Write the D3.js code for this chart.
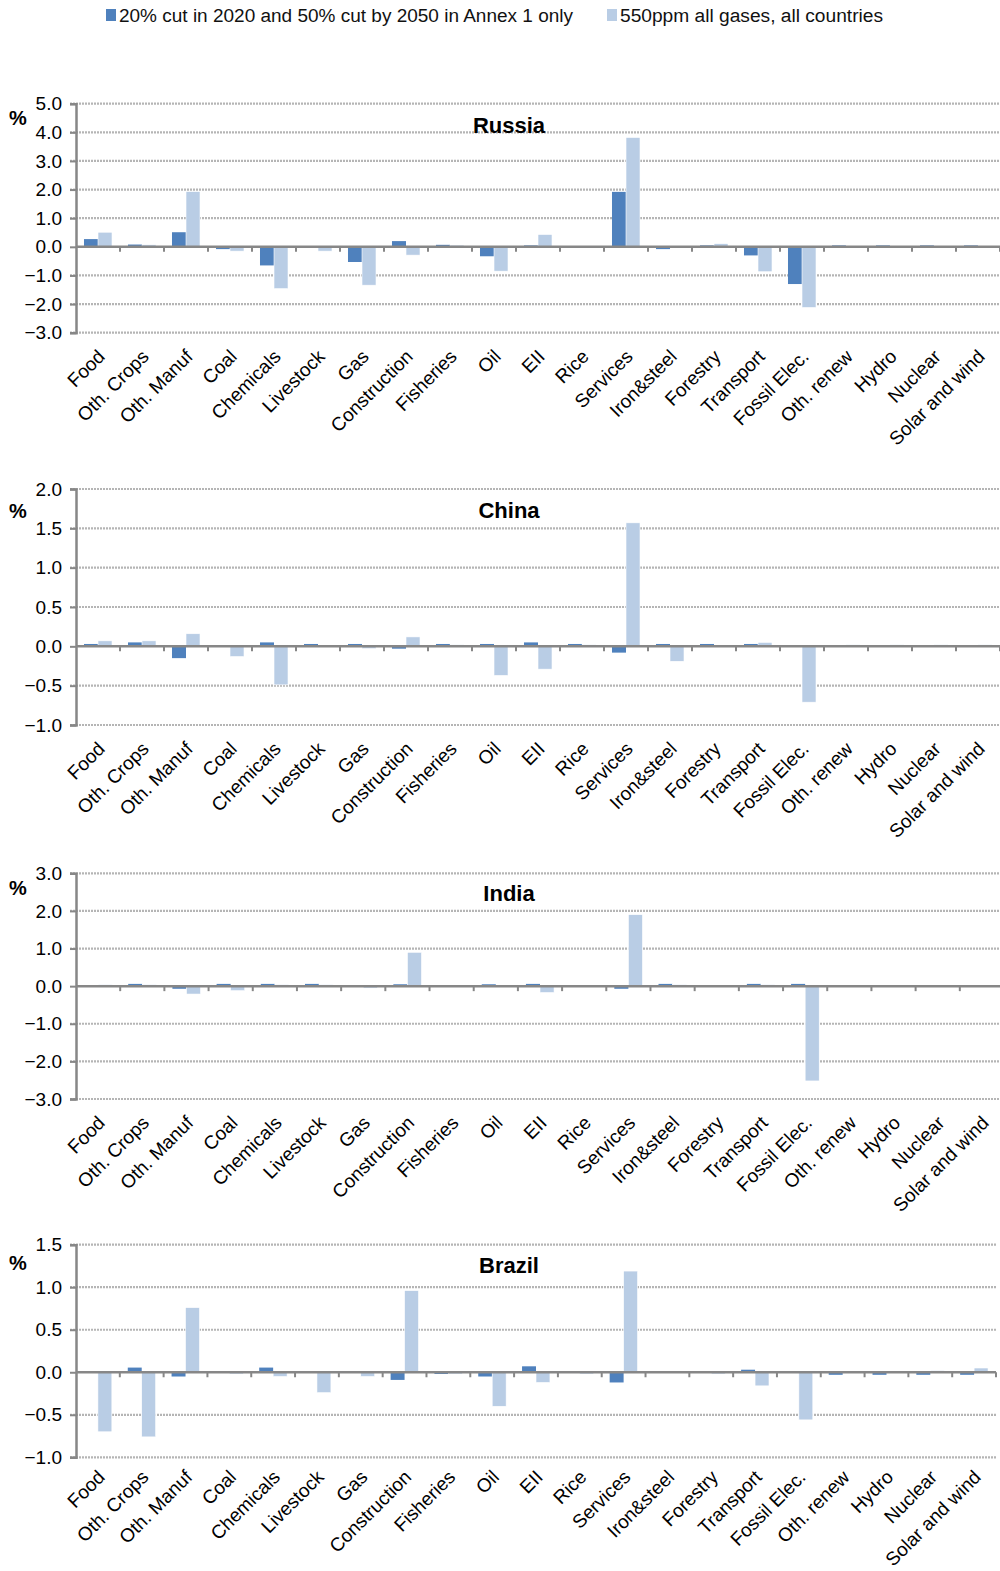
<!DOCTYPE html>
<html>
<head>
<meta charset="utf-8">
<script src="https://cdn.jsdelivr.net/npm/d3@7"></script>
<style>
  html, body { margin: 0; padding: 0; background: #fff; }
  svg { display: block; font-family: "Liberation Sans", Arial, sans-serif; }
</style>
</head>
<body>
<svg id="chart" width="1000" height="1571"></svg>
<script>
// Sectors shown on every panel's category axis
const categories = ["Food", "Oth. Crops", "Oth. Manuf", "Coal", "Chemicals", "Livestock", "Gas",
  "Construction", "Fisheries", "Oil", "EII", "Rice", "Services", "Iron&steel", "Forestry",
  "Transport", "Fossil Elec.", "Oth. renew", "Hydro", "Nuclear", "Solar and wind"];

const seriesNames = ["20% cut in 2020 and 50% cut by 2050 in Annex 1 only",
  "550ppm all gases, all countries"];

// Percent change in output by sector, scenario A (Annex 1 only) and scenario B (550ppm)
const russiaA = [0.27, 0.08, 0.51, -0.08, -0.65, -0.02, -0.53, 0.20, 0.07, -0.33, 0.05, 0, 1.92, -0.08, 0.05, -0.30, -1.30, 0.05, 0.05, 0.05, 0.05];
const russiaB = [0.51, 0.07, 1.93, -0.15, -1.46, -0.15, -1.34, -0.29, 0.06, -0.85, 0.43, 0, 3.82, 0, 0.11, -0.87, -2.12, 0.03, 0.03, 0.03, 0.03];

const chinaA = [0.03, 0.05, -0.15, 0, 0.05, 0.03, 0.03, -0.03, 0.03, 0.03, 0.05, 0.03, -0.08, 0.03, 0.03, 0.03, 0, 0, 0, 0, 0];
const chinaB = [0.07, 0.07, 0.16, -0.13, -0.49, 0.01, -0.03, 0.12, 0.02, -0.37, -0.29, 0.02, 1.57, -0.19, 0, 0.05, -0.71, 0.02, 0.02, 0.02, 0.02];

const indiaA = [0.01, 0.06, -0.07, 0.06, 0.06, 0.06, 0, 0.05, 0, 0.05, 0.06, 0, -0.07, 0.06, 0, 0.06, 0.06, 0, 0, 0, 0];
const indiaB = [0.04, 0.04, -0.21, -0.12, 0.04, 0.04, -0.05, 0.90, 0.03, 0, -0.17, 0.03, 1.90, 0.04, 0.03, 0.04, -2.52, 0.03, 0.03, 0.03, 0.03];

const brazilA = [0, 0.055, -0.05, 0, 0.055, 0, 0, -0.09, -0.02, -0.05, 0.07, 0, -0.12, 0, 0, 0.03, 0, -0.03, -0.03, -0.03, -0.03];
const brazilB = [-0.70, -0.76, 0.76, -0.02, -0.05, -0.24, -0.05, 0.96, -0.02, -0.40, -0.12, -0.02, 1.19, 0, -0.02, -0.16, -0.56, 0, 0, 0.02, 0.05];

// Y-axis tick values per panel
const russiaTicks = [-3, -2, -1, 0, 1, 2, 3, 4, 5];
const chinaTicks = [-1, -0.5, 0, 0.5, 1, 1.5, 2];
const indiaTicks = [-3, -2, -1, 0, 1, 2, 3];
const brazilTicks = [-1, -0.5, 0, 0.5, 1, 1.5];

const colors = ["#4F81BD", "#B9CDE5"];

const panels = [
  { name: "Russia", a: russiaA, b: russiaB, ticks: russiaTicks, top: 103.7, bottom: 332.7, right: 1000, titleY: 133, pctY: 125, labelDy: 25 },
  { name: "China",  a: chinaA,  b: chinaB,  ticks: chinaTicks,  top: 489,   bottom: 725,   right: 1000, titleY: 518, pctY: 518, labelDy: 25 },
  { name: "India",  a: indiaA,  b: indiaB,  ticks: indiaTicks,  top: 873.3, bottom: 1099,  right: 1004, titleY: 901, pctY: 895, labelDy: 25 },
  { name: "Brazil", a: brazilA, b: brazilB, ticks: brazilTicks, top: 1244.7, bottom: 1457.3, right: 996, titleY: 1273, pctY: 1270, labelDy: 21 }
];

const svg = d3.select("#chart");
const left = 76;
const axisColor = "#878787";
const gridColor = "#b5b5b5";

// Legend
const legend = svg.append("g").attr("class", "legend");
const legendItems = [
  { x: 106, textX: 119, len: 454 },
  { x: 607, textX: 620, len: 263 }
];
legendItems.forEach((it, i) => {
  legend.append("rect").attr("x", it.x).attr("y", 9).attr("width", 10).attr("height", 12).attr("fill", colors[i]);
  legend.append("text").attr("x", it.textX).attr("y", 22)
    .attr("font-size", 18).attr("fill", "#111")
    .attr("textLength", it.len).attr("lengthAdjust", "spacingAndGlyphs")
    .text(seriesNames[i]);
});

panels.forEach(p => {
  const g = svg.append("g").attr("class", "panel");
  const x = d3.scaleBand().domain(categories).range([left, p.right]).paddingInner(0).paddingOuter(0);
  const sub = d3.scaleBand().domain([0, 1]).range([0, x.bandwidth()]).paddingInner(0).paddingOuter(0.57);
  const yDomain = d3.extent(p.ticks);
  const y = d3.scaleLinear().domain(yDomain).range([p.bottom, p.top]);

  // Dotted horizontal gridlines
  g.append("g").selectAll("line").data(p.ticks.filter(t => t !== 0)).join("line")
    .attr("x1", left - 6).attr("x2", p.right)
    .attr("y1", d => y(d)).attr("y2", d => y(d))
    .attr("stroke", gridColor).attr("stroke-width", 2.2).attr("stroke-dasharray", "2,1");

  // Bars
  const series = [p.a, p.b];
  series.forEach((vals, si) => {
    g.append("g").selectAll("rect").data(vals).join("rect")
      .attr("x", (d, i) => x(categories[i]) + sub(si))
      .attr("width", sub.bandwidth())
      .attr("y", d => y(Math.max(0, d)))
      .attr("height", d => Math.abs(y(d) - y(0)))
      .attr("fill", colors[si])
      .attr("stroke", si === 1 ? "#fff" : "none")
      .attr("stroke-width", si === 1 ? 0.6 : 0);
  });

  // Y axis
  const yAxis = d3.axisLeft(y).tickValues(p.ticks).tickFormat(d3.format(".1f")).tickSize(6).tickPadding(8);
  const ya = g.append("g").attr("transform", `translate(${left},0)`).call(yAxis);
  ya.select(".domain").attr("stroke", axisColor).attr("stroke-width", 2.5);
  ya.selectAll(".tick line").attr("stroke", axisColor).attr("stroke-width", 2);
  ya.selectAll(".tick text").attr("font-size", 19).attr("fill", "#000").attr("font-family", "'Liberation Sans', Arial, sans-serif");

  // Zero axis with downward ticks at category boundaries
  const boundaries = categories.map(c => x(c) + x.bandwidth());
  const xa = g.append("g");
  xa.append("line").attr("x1", left).attr("x2", p.right).attr("y1", y(0)).attr("y2", y(0))
    .attr("stroke", axisColor).attr("stroke-width", 2.5);
  xa.selectAll("line.tk").data(boundaries).join("line").attr("class", "tk")
    .attr("x1", d => d).attr("x2", d => d).attr("y1", y(0)).attr("y2", y(0) + 5)
    .attr("stroke", axisColor).attr("stroke-width", 2);

  // Category labels, rotated
  g.append("g").selectAll("text").data(categories).join("text")
    .attr("transform", c => `translate(${x(c) + x.bandwidth() / 2 + 8},${p.bottom + p.labelDy}) rotate(-45)`)
    .attr("text-anchor", "end").attr("font-size", 19).attr("fill", "#000")
    .text(c => c);

  // Panel title and unit
  g.append("text").attr("x", 509).attr("y", p.titleY).attr("text-anchor", "middle")
    .attr("font-size", 22).attr("font-weight", "bold").text(p.name);
  g.append("text").attr("x", 18).attr("y", p.pctY).attr("text-anchor", "middle")
    .attr("font-size", 20).attr("font-weight", "bold").text("%");
});
</script>
</body>
</html>
